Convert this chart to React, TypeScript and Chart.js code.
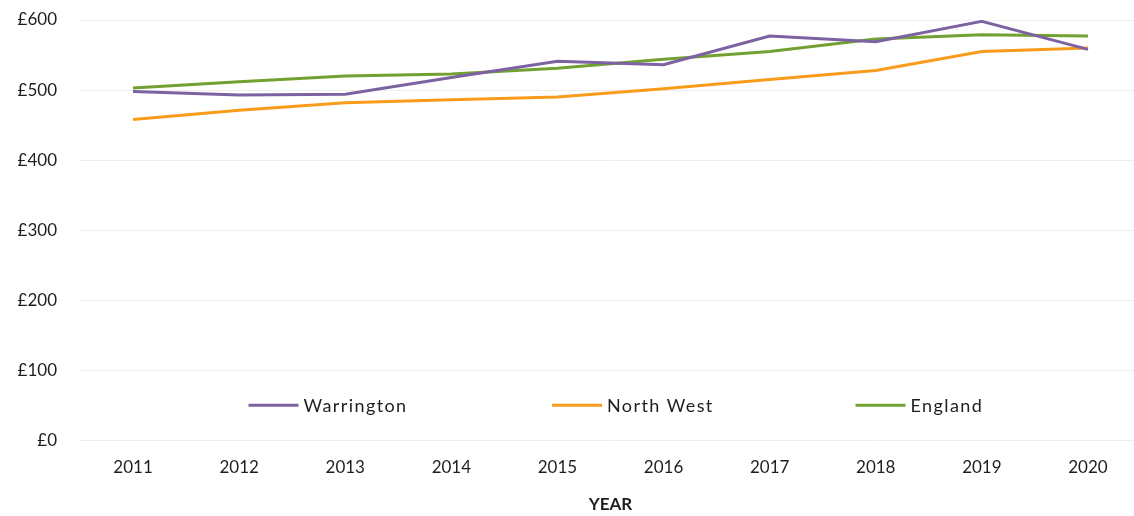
import React, { useEffect, useRef } from "react";
import { Chart, registerables } from "chart.js";

Chart.register(...registerables);

const years = ["2011", "2012", "2013", "2014", "2015", "2016", "2017", "2018", "2019", "2020"];
const warrington = [498, 493, 494, 518, 541, 536, 577, 569, 598, 558];
const northWest = [458, 471, 482, 486, 490, 502, 515, 528, 555, 560];
const england = [503, 512, 520, 523, 531, 544, 555, 573, 579, 577];
const seriesNames = ["Warrington", "North West", "England"];
const seriesColors = ["#7D62A2", "#FA9C1B", "#73A032"];

const FONT = "Lato, 'Open Sans', sans-serif";
const TEXT = "#1e1e1e";

const legendPlugin = {
  id: "insideLegend",
  afterDraw(chart: any) {
    const { ctx, chartArea } = chart;
    const y = chart.scales.y.getPixelForValue(50);
    const cx = (chartArea.left + chartArea.right) / 2;
    ctx.save();
    ctx.font = `18px ${FONT}`;
    try { (ctx as any).letterSpacing = "1.4px"; } catch (e) {}
    ctx.textBaseline = "middle";
    ctx.textAlign = "left";
    chart.data.datasets.forEach((ds: any, i: number) => {
      const x0 = cx - 362 + i * 303.5;
      ctx.strokeStyle = ds.borderColor;
      ctx.lineWidth = 3;
      ctx.beginPath();
      ctx.moveTo(x0, y);
      ctx.lineTo(x0 + 50, y);
      ctx.stroke();
      ctx.fillStyle = TEXT;
      ctx.fillText(ds.label, x0 + 55, y + 1);
    });
    ctx.restore();
  },
};

export default function App() {
  const ref = useRef<HTMLCanvasElement>(null);
  useEffect(() => {
    if (!ref.current) return;
    const values = [warrington, northWest, england];
    const chart = new Chart(ref.current, {
      type: "line",
      data: {
        labels: years,
        datasets: seriesNames.map((name, i) => ({
          label: name,
          data: values[i],
          borderColor: seriesColors[i],
          backgroundColor: seriesColors[i],
          borderWidth: 3,
          pointRadius: 0,
          tension: 0,
          fill: false,
        })),
      },
      options: {
        animation: false,
        responsive: false,
        maintainAspectRatio: false,
        layout: { padding: { top: 20, right: 4, left: 0, bottom: 0 } },
        plugins: {
          legend: { display: false },
          tooltip: { enabled: false },
        },
        scales: {
          x: {
            offset: true,
            grid: { display: false, drawTicks: false },
            border: { display: false },
            ticks: {
              color: TEXT,
              font: { family: FONT, size: 17 },
              padding: 17,
              maxRotation: 0,
            },
            title: {
              display: true,
              text: "YEAR",
              color: TEXT,
              font: { family: FONT, size: 17, weight: "bold" },
              padding: { top: 0, bottom: 1 },
            },
          },
          y: {
            min: 0,
            max: 600,
            grid: { color: "#eeeeee", lineWidth: 1, drawTicks: true, tickLength: 23, tickColor: "rgba(0,0,0,0)" },
            border: { display: false },
            ticks: {
              stepSize: 100,
              color: TEXT,
              font: { family: FONT, size: 17 },
              padding: 0,
              callback: (v: any) => "£" + v,
            },
            afterFit: (scale: any) => {
              scale.width = 80;
            },
          },
        },
      },
      plugins: [legendPlugin],
    });
    return () => chart.destroy();
  }, []);
  return (
    <div style={{ position: "fixed", left: 0, top: 0, width: 1134, height: 516, overflow: "hidden", background: "#fff" }}>
      <canvas ref={ref} width={1145} height={516} style={{ display: "block" }} />
    </div>
  );
}
